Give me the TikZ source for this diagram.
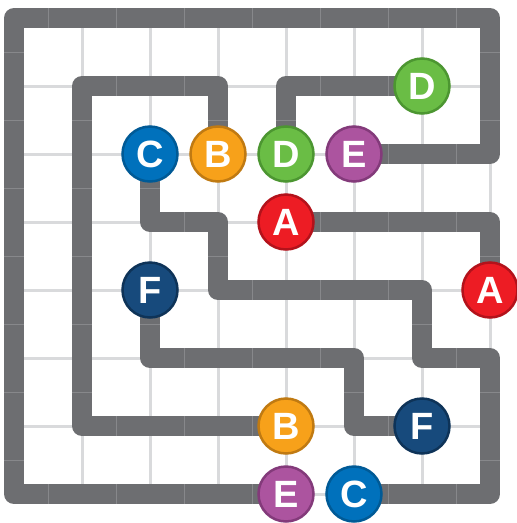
\documentclass[tikz,border=0pt]{standalone}
\usepackage{fontspec}
\setmainfont{Liberation Sans}
\pgfdeclarelayer{bg}
\pgfsetlayers{bg,main}
\definecolor{pathgray}{HTML}{6D6E71}
\definecolor{sepgray}{HTML}{87888B}
\definecolor{gridgray}{HTML}{D9DADC}
\definecolor{cA}{HTML}{ED1C24}\definecolor{cAd}{HTML}{B3121B}
\definecolor{cB}{HTML}{F7A11A}\definecolor{cBd}{HTML}{C07A12}
\definecolor{cC}{HTML}{0071BC}\definecolor{cCd}{HTML}{005A96}
\definecolor{cD}{HTML}{6ABD45}\definecolor{cDd}{HTML}{4C9631}
\definecolor{cE}{HTML}{AC549F}\definecolor{cEd}{HTML}{833A7A}
\definecolor{cF}{HTML}{174A7C}\definecolor{cFd}{HTML}{0E3358}
\tikzset{
  disc/.style={circle, fill=#1, draw=#1d, line width=2.5pt, minimum size=55pt,
    inner sep=0pt, text=white, font=\fontsize{38}{38}\selectfont\bfseries},
  pipe/.style={draw=pathgray, line width=20pt, line join=round},
  seps/.style={draw=sepgray, line width=20pt, dash pattern=on 1pt off 67pt, dash phase=34.5pt},
  gridline/.style={draw=gridgray, line width=3pt},
}
\newcommand\pipeline[1]{\path[pipe] #1; \path[seps] #1;}
\begin{document}
\begin{tikzpicture}[x=68pt, y=-68pt]
\useasboundingbox (-14pt,18pt) rectangle (503pt,-505pt);
% nodes
\node[disc=cC] (c1) at (2,2) {C};
\node[disc=cB] (b1) at (3,2) {B};
\node[disc=cD] (d1) at (4,2) {D};
\node[disc=cE] (e2) at (5,2) {E};
\node[disc=cD] (d2) at (6,1) {D};
\node[disc=cA] (a1) at (4,3) {A};
\node[disc=cA] (a2) at (7,4) {A};
\node[disc=cF] (f1) at (2,4) {F};
\node[disc=cF] (f2) at (6,6) {F};
\node[disc=cB] (b2) at (4,6) {B};
\node[disc=cE] (e1) at (4,7) {E};
\node[disc=cC] (c2) at (5,7) {C};
\begin{pgfonlayer}{bg}
\fill[white] (-14pt,18pt) rectangle (503pt,-505pt);
\foreach \k in {0,...,7} {
  \path[gridline] (\k,0) -- (\k,7);
  \path[gridline] (0,\k) -- (7,\k);
}
\pipeline{(e2.center) -- (7,2) -- (7,0) -- (0,0) -- (0,7) -- (e1.center)}
\pipeline{(b1.center) -- (3,1) -- (1,1) -- (1,6) -- (b2.center)}
\pipeline{(d1.center) -- (4,1) -- (d2.center)}
\pipeline{(a1.center) -- (7,3) -- (a2.center)}
\pipeline{(c1.center) -- (2,3) -- (3,3) -- (3,4) -- (6,4) -- (6,5) -- (7,5) -- (7,7) -- (c2.center)}
\pipeline{(f1.center) -- (2,5) -- (5,5) -- (5,6) -- (f2.center)}
\end{pgfonlayer}
\end{tikzpicture}
\end{document}
